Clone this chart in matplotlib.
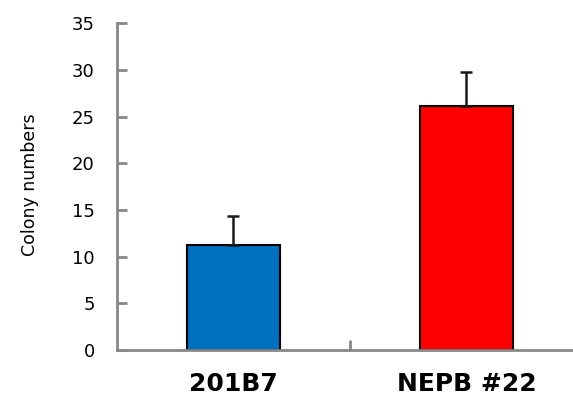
import numpy as np
import matplotlib.pyplot as plt

samples = ['201B7', 'NEPB #22']
colony_mean = [11.3, 26.1]
colony_err = [3.1, 3.7]
bar_colors = ['#0070C0', '#FF0000']

fig = plt.figure(figsize=(5.73, 4.07), dpi=100)
ax = fig.add_axes([0.2042, 0.14, 0.813, 0.803])

x = np.arange(len(samples))
ax.bar(x, colony_mean, width=0.40, color=bar_colors, edgecolor='black',
       linewidth=1.5, zorder=2)
ax.errorbar(x, colony_mean, yerr=[np.zeros(len(x)), colony_err], fmt='none',
            ecolor='#1a1a1a', elinewidth=1.8, capsize=4, capthick=1.8, zorder=3)

ax.set_xlim(-0.5, 1.5)
ax.set_ylim(0, 35)
ax.set_yticks(range(0, 36, 5))
ax.set_xticks([0.5])
ax.set_xticklabels([''])
ax.tick_params(axis='both', direction='in', color='#888888', width=2, length=7,
               labelsize=13)
ax.tick_params(axis='y', pad=16)

for side in ['top', 'right']:
    ax.spines[side].set_visible(False)
for side in ['left', 'bottom']:
    ax.spines[side].set_color('#888888')
    ax.spines[side].set_linewidth(2)

for xi, name in zip(x, samples):
    ax.text(xi, -3.6, name, ha='center', va='center', fontsize=18,
            fontweight='bold', transform=ax.transData, clip_on=False)

fig.text(0.053, 0.545, 'Colony numbers', rotation=90, ha='center', va='center',
         fontsize=12.5)

fig.savefig('out.png', dpi=100)
